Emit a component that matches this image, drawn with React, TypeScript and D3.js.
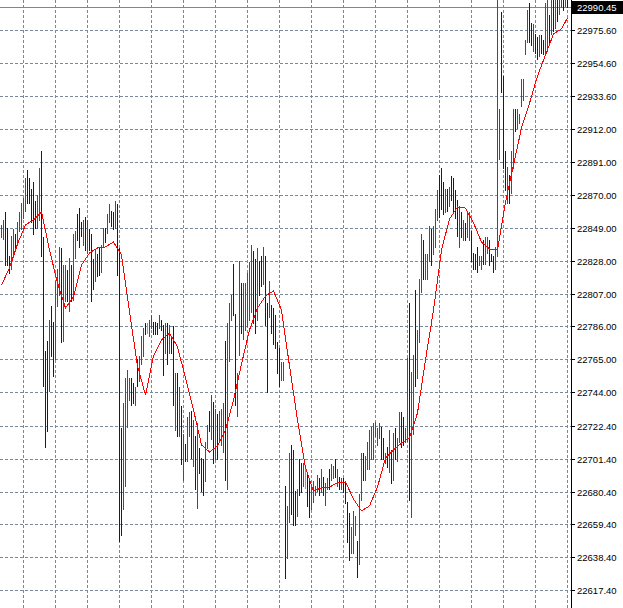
import React from 'react';
import * as d3 from 'd3';

// ---- data (prices) ----
const HIGH: number[] = [
  22851,22854,22859,22849,22831,22844,22848,22845,22853,22859,
  22865,22868,22881,22886,22881,22874,22878,22866,22870,22887,
  22898,22843,22770,22777,22790,22799,22789,22815,22823,22837,
  22836,22825,22825,22822,22830,22825,22845,22847,22858,22862,
  22853,22854,22856,22854,22848,22845,22829,22835,22832,22837,
  22838,22849,22849,22858,22864,22860,22859,22866,22864,22836,
  22721,22737,22753,22758,22753,22753,22750,22747,22765,22767,
  22780,22785,22788,22788,22790,22793,22789,22789,22788,22793,
  22790,22787,22788,22788,22787,22779,22786,22756,22756,22747,
  22735,22717,22711,22728,22731,
  22732,22726,22716,22724,22708,22702,22701,22712,22723,22732,
  22742,22738,22733,22730,22732,22733,22737,22777,22788,22801,
  22806,22826,22794,22756,22828,22814,22814,22814,22820,22827,
  22838,22834,22829,22836,22828,22831,22837,22831,22801,22815,
  22800,22798,22793,22776,22772,22763,22763,22684,22671,22705,
  22710,22707,22681,22682,22701,22699,22699,22695,22691,22688,
  22684,22687,22684,22691,22689,22695,22690,22686,22689,22695,
  22698,22697,22701,22695,22690,22689,22689,22686,22674,22667,
  22658,22668,22665,22649,22679,22705,22705,22703,22712,22720,
  22722,22724,22725,22721,22724,
  22722,22715,22705,22709,22720,22707,22718,22721,22715,22731,
  22731,22728,22721,22766,22801,22757,22768,22809,22784,22816,
  22845,22841,22832,22832,22850,22848,22850,22861,22873,22883,
  22887,22878,22874,22874,22875,22882,22881,22873,22867,22863,
  22859,22854,22852,22859,22859,22847,22833,22832,22837,22831,
  22831,22841,22843,22843,22841,22832,22831,22837,23005,22925,
  22987,22946,22898,22888,22883,22898,22925,22925,22925,22922,
  22944,22944,22969,22988,22993,22980,22979,22973,22971,22972,
  22972,22969,22993,23005,22985,23005,23005,23005,23005,23005,
  23005,23005,23005,23005,
];

const LOW: number[] = [
  22843,22842,22825,22825,22820,22823,22831,22837,22840,22847,
  22848,22855,22860,22865,22865,22853,22845,22849,22849,22854,
  22831,22748,22709,22719,22745,22767,22754,22765,22799,22806,
  22776,22777,22802,22802,22796,22802,22803,22830,22841,22837,
  22844,22838,22835,22833,22835,22802,22810,22815,22818,22819,
  22821,22837,22840,22846,22853,22850,22848,22849,22819,22649,
  22653,22669,22684,22722,22739,22736,22737,22736,22748,22751,
  22762,22767,22781,22782,22780,22785,22781,22781,22781,22785,
  22784,22755,22769,22762,22769,22769,22736,22720,22716,22716,
  22698,22688,22700,22700,22716,
  22702,22697,22682,22670,22692,22681,22678,22687,22708,22719,
  22714,22699,22701,22701,22712,22710,22706,22688,22682,22764,
  22790,22793,22736,22729,22768,22782,22778,22784,22786,22790,
  22795,22788,22782,22790,22806,22812,22813,22787,22744,22792,
  22782,22775,22772,22756,22748,22752,22752,22625,22638,22661,
  22666,22659,22659,22665,22678,22680,22684,22683,22671,22664,
  22669,22674,22678,22681,22678,22680,22678,22672,22682,22682,
  22688,22689,22690,22684,22682,22682,22680,22673,22648,22637,
  22641,22641,22653,22626,22634,22675,22688,22688,22695,22695,
  22701,22701,22716,22710,22715,
  22701,22701,22699,22696,22693,22686,22688,22701,22700,22712,
  22709,22710,22712,22713,22675,22664,22717,22748,22753,22776,
  22808,22816,22816,22816,22828,22825,22832,22837,22854,22856,
  22861,22858,22859,22860,22863,22867,22859,22855,22844,22837,
  22843,22841,22841,22843,22841,22828,22823,22823,22821,22825,
  22823,22826,22826,22833,22825,22828,22821,22823,22831,22893,
  22936,22887,22873,22865,22865,22871,22887,22911,22913,22916,
  22927,22931,22960,22968,22968,22966,22962,22961,22957,22959,
  22961,22960,22960,22962,22968,22973,22975,22977,22981,22986,
  22990,22988,22991,22990,
];

// r = up bar, b = down bar, g = unchanged
const DIRS: string[] = (
  'rrbbbrrbrr' + 'rrrbbbbbrr' + 'bbbbrbbrrr' + 'brrbrbrrbb' + 'brbrbbbrbb' +
  'rrbrrbbrbb' + 'brrrrbbrbr' + 'rrbgrrbbbr' + 'bbrbrbbrbr' + 'brbrr' +
  'brbrbbbrrb' + 'rbrbrrrbrr' + 'rbbrrbrrrr' + 'rbbrbbrbbr' + 'bbbbbrrbrr' +
  'bbbrbbrgbb' + 'rrrrbrbrrb' + 'rrbrbrbbbb' + 'rrrbrrbrrr' + 'rrrrr' +
  'bbrbrbrbrr' + 'bbrrbrrbrr' + 'rbrrrbrrrb' + 'bbrbrbbbbr' + 'brbrrbbbbr' +
  'rbrrbbbrrr' + 'bbbrbrrbrr' + 'rrrrbbrbbr' + 'bbrrbrbrbr' + 'rbrb'
).split('');

// moving average, read every 4th bar (plus the last bar)
const MA: number[] = [
  22812.8,22823.7,22839.0,22851.2,22854.4,22859.5,22835.2,22814.1,22798.1,22805.2,
  22825.6,22833.3,22836.5,22837.1,22840.3,22832.0,22795.6,22761.1,22742.5,22767.4,
  22777.7,22782.1,22773.2,22753.4,22732.9,22710.6,22706.1,22709.9,22720.1,22739.3,
  22762.3,22784.1,22798.1,22805.8,22809.0,22796.8,22761.1,22726.5,22695.9,22681.2,
  22683.1,22683.7,22686.3,22686.9,22676.0,22668.4,22671.6,22683.7,22702.2,22707.4,
  22711.8,22715.0,22731.0,22764.9,22796.8,22835.2,22855.0,22862.7,22862.0,22852.5,
  22840.3,22835.8,22835.2,22865.9,22889.5,22913.2,22929.0,22946.4,22959.8,22973.3,
  22976.5,22983.5,
];

const TICKS: number[] = [
  22975.60,22954.60,22933.60,22912.00,22891.00,22870.00,22849.00,22828.00,22807.00,
  22786.00,22765.00,22744.00,22722.40,22701.40,22680.40,22659.40,22638.40,22617.40,
];
const BID = 22990.45;

const W = 623;
const H = 608;
const AXIS_X = 571;
const GRID = '#778899';
const COLORS: Record<string, string> = { r: '#ff0000', b: '#0000ff', g: '#00ff00' };
const FONT = "'Liberation Sans', Arial, sans-serif";

export default function App() {
  const n = HIGH.length;
  const x = d3.scaleLinear().domain([0, n - 1]).range([1.5, 1.5 + 2 * (n - 1)]);
  const y = d3.scaleLinear().domain([22617.4, 22975.6]).range([590.7, 30.3]);
  const crisp = (v: number) => Math.floor(v) + 0.5;

  const maIdx = d3.range(0, n, 4).concat([n - 1]).slice(0, MA.length);
  const maLine = d3
    .line<number>()
    .x((_, i) => x(maIdx[i]))
    .y((d) => y(d))(MA) as string;

  const vGrid = d3.range(11, n, 16);

  return (
    <svg
      width={W}
      height={H}
      style={{ position: 'absolute', left: 0, top: 0, background: '#fff', display: 'block' }}
    >
      <defs>
        <clipPath id="plot">
          <rect x={0} y={0} width={AXIS_X} height={H} />
        </clipPath>
      </defs>
      <rect x={0} y={0} width={W} height={H} fill="#fff" />
      <g clipPath="url(#plot)" shapeRendering="crispEdges">
        {TICKS.map((t) => (
          <line key={'h' + t} x1={0} x2={AXIS_X} y1={crisp(y(t))} y2={crisp(y(t))}
            stroke={GRID} strokeWidth={1} strokeDasharray="3 2" />
        ))}
        {vGrid.map((i) => (
          <line key={'v' + i} x1={x(i)} x2={x(i)} y1={0} y2={H}
            stroke={GRID} strokeWidth={1} strokeDasharray="3 2" />
        ))}
        <line x1={0} x2={AXIS_X} y1={crisp(y(BID))} y2={crisp(y(BID))} stroke={GRID} strokeWidth={1} />
        {HIGH.map((h, i) => (
          <line key={'b' + i} x1={x(i)} x2={x(i)} y1={Math.floor(y(h))} y2={Math.ceil(y(LOW[i]))}
            stroke={COLORS[DIRS[i]] || '#0000ff'} strokeWidth={1} />
        ))}
        <path d={maLine} fill="none" stroke="#ff0000" strokeWidth={1} />
      </g>
      <g shapeRendering="crispEdges">
        <line x1={AXIS_X + 0.5} x2={AXIS_X + 0.5} y1={0} y2={H} stroke="#000" strokeWidth={1} />
        {TICKS.map((t) => (
          <line key={'t' + t} x1={AXIS_X} x2={AXIS_X + 4} y1={crisp(y(t))} y2={crisp(y(t))} stroke="#000" />
        ))}
      </g>
      {TICKS.map((t) => (
        <text key={'l' + t} x={577} y={crisp(y(t))} dy="0.35em" fontFamily={FONT} fontSize={9.5} fill="#000">
          {t.toFixed(2)}
        </text>
      ))}
      <rect x={AXIS_X + 1} y={1} width={W - AXIS_X - 1} height={13} fill="#000" />
      <text x={577} y={crisp(y(BID))} dy="0.35em" fontFamily={FONT} fontSize={9.5} fill="#fff">
        {BID.toFixed(2)}
      </text>
    </svg>
  );
}
